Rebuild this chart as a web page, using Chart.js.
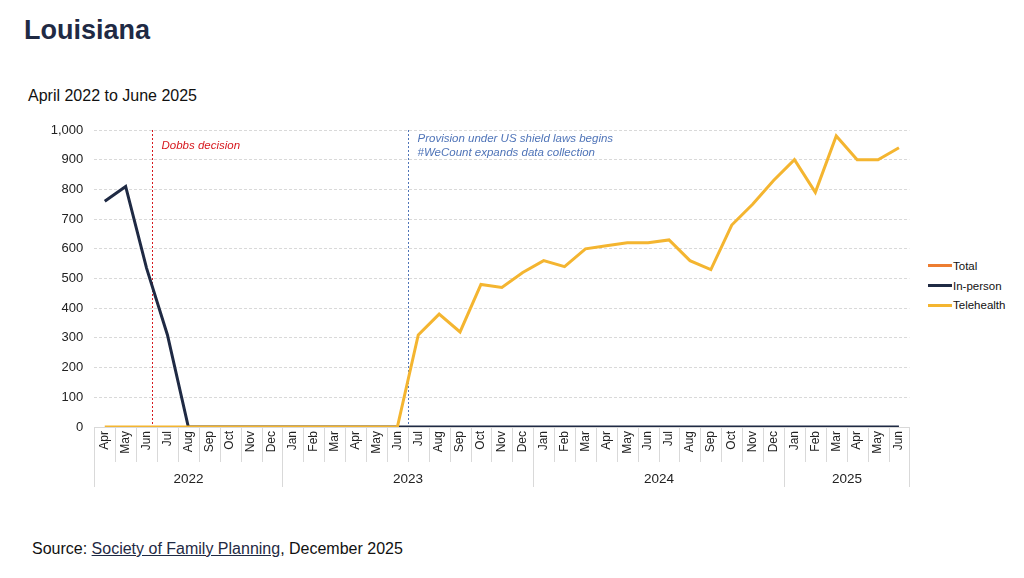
<!DOCTYPE html>
<html>
<head>
<meta charset="utf-8">
<script src="https://cdn.jsdelivr.net/npm/chart.js@4.4.1/dist/chart.umd.min.js"></script>
<style>
  body { margin: 0; width: 1024px; height: 578px; background: #fff; font-family: "Liberation Sans", Arial, sans-serif; position: relative; overflow: hidden; }
  #title { position: absolute; left: 24px; top: 15px; font-size: 27px; font-weight: bold; color: #1f2a44; }
  #subtitle { position: absolute; left: 28px; top: 87px; font-size: 16px; color: #111; }
  #source { position: absolute; left: 32px; top: 540px; font-size: 16px; color: #111; }
  #source u { color: #1f2a44; }
  #chartBox { position: absolute; left: 0; top: 110px; width: 920px; height: 390px; }
  #legend { position: absolute; left: 928px; top: 256px; font-size: 11.5px; color: #111; }
  #legend div { display: flex; align-items: center; height: 19.7px; }
  #legend span.sw { display: inline-block; width: 24px; height: 3px; margin-right: 1px; }
</style>
</head>
<body>
<div id="title">Louisiana</div>
<div id="subtitle">April 2022 to June 2025</div>
<div id="chartBox"><canvas id="chart" width="920" height="390"></canvas></div>
<div id="legend"></div>
<div id="source">Source: <u>Society of Family Planning</u>, December 2025</div>
<script>
// months April 2022 .. June 2025
const months = ['Apr', 'May', 'Jun', 'Jul', 'Aug', 'Sep', 'Oct', 'Nov', 'Dec',
  'Jan', 'Feb', 'Mar', 'Apr', 'May', 'Jun', 'Jul', 'Aug', 'Sep', 'Oct', 'Nov', 'Dec',
  'Jan', 'Feb', 'Mar', 'Apr', 'May', 'Jun', 'Jul', 'Aug', 'Sep', 'Oct', 'Nov', 'Dec',
  'Jan', 'Feb', 'Mar', 'Apr', 'May', 'Jun'];
const years = ['2022', '2023', '2024', '2025'];
const monthsPerYear = [9, 12, 12, 6];

const totalValues = [];
const inPersonValues = [760, 810, 535, 310, 0, 0, 0, 0, 0,
  0, 0, 0, 0, 0, 0, 0, 0, 0, 0, 0, 0,
  0, 0, 0, 0, 0, 0, 0, 0, 0, 0, 0, 0,
  0, 0, 0, 0, 0, 0];
const telehealthValues = [0, 0, 0, 0, 0, 0, 0, 0, 0,
  0, 0, 0, 0, 0, 0, 310, 380, 320, 480, 470, 520,
  560, 540, 600, 610, 620, 620, 630, 560, 530, 680, 750, 830,
  900, 790, 980, 900, 900, 940];

// event markers (position in month units from Apr 2022)
const events = [
  { at: 2.25, color: '#d7191f', lines: ['Dobbs decision'] },
  { at: 14.5, color: '#4f74b8', lines: ['Provision under US shield laws begins', '#WeCount expands data collection'] }
];

const colors = { total: '#ed7d31', inPerson: '#1f2a44', telehealth: '#f4b530' };
const FONT = '"Liberation Sans", Arial, sans-serif';

const legendItems = [
  { label: 'Total', color: colors.total },
  { label: 'In-person', color: colors.inPerson },
  { label: 'Telehealth', color: colors.telehealth }
];
document.getElementById('legend').innerHTML = legendItems
  .map(it => `<div><span class="sw" style="background:${it.color}"></span>${it.label}</div>`).join('');

const eventPlugin = {
  id: 'events',
  beforeDatasetsDraw(chart) {
    const ctx = chart.ctx;
    const x = chart.scales.x;
    const area = chart.chartArea;
    ctx.save();
    events.forEach(ev => {
      const px = Math.round(x.getPixelForValue(ev.at)) + 0.5;
      ctx.strokeStyle = ev.color;
      ctx.lineWidth = 1;
      ctx.setLineDash([2, 2]);
      ctx.beginPath();
      ctx.moveTo(px, area.top);
      ctx.lineTo(px, area.bottom);
      ctx.stroke();
      ctx.setLineDash([]);
      ctx.fillStyle = ev.color;
      ctx.font = 'italic 11.5px ' + FONT;
      ctx.textBaseline = 'middle';
      ev.lines.forEach((t, i) => ctx.fillText(t, px + 9, area.top + (ev.lines.length > 1 ? 9 : 16) + i * 14));
    });
    ctx.restore();
  },
  afterDraw(chart) {
    const ctx = chart.ctx;
    const x = chart.scales.x;
    const area = chart.chartArea;
    const step = x.getPixelForValue(1) - x.getPixelForValue(0);
    const edge = i => Math.round(x.getPixelForValue(i) - step / 2) + 0.5;
    ctx.save();
    ctx.strokeStyle = '#d9d9d9';
    ctx.lineWidth = 1;
    // month separators
    for (let i = 0; i <= months.length; i++) {
      ctx.beginPath();
      ctx.moveTo(edge(i), area.bottom);
      ctx.lineTo(edge(i), area.bottom + 35);
      ctx.stroke();
    }
    // year groups
    let start = 0;
    ctx.fillStyle = '#222';
    ctx.font = '13.5px ' + FONT;
    ctx.textAlign = 'center';
    ctx.textBaseline = 'middle';
    ctx.beginPath();
    ctx.moveTo(edge(0), area.bottom);
    ctx.lineTo(edge(0), area.bottom + 60);
    ctx.stroke();
    years.forEach((y, k) => {
      const end = start + monthsPerYear[k];
      ctx.beginPath();
      ctx.moveTo(edge(end), area.bottom);
      ctx.lineTo(edge(end), area.bottom + 60);
      ctx.stroke();
      ctx.fillText(y, (edge(start) + edge(end)) / 2, area.bottom + 52);
      start = end;
    });
    ctx.restore();
  }
};

new Chart(document.getElementById('chart'), {
  type: 'line',
  data: {
    labels: months,
    datasets: [
      { label: 'Total', data: totalValues, borderColor: colors.total, order: 2 },
      { label: 'In-person', data: inPersonValues, borderColor: colors.inPerson, order: 1 },
      { label: 'Telehealth', data: telehealthValues, borderColor: colors.telehealth, order: 0 }
    ]
  },
  options: {
    responsive: false,
    animation: false,
    layout: { padding: { top: 20, right: 10.6, left: 0, bottom: 0 } },
    elements: {
      line: { borderWidth: 3, tension: 0, borderCapStyle: 'butt', borderJoinStyle: 'miter' },
      point: { radius: 0 }
    },
    plugins: { legend: { display: false }, tooltip: { enabled: false } },
    scales: {
      x: {
        offset: true,
        grid: { display: true, drawOnChartArea: false, drawTicks: false },
        border: { display: true, color: '#d9d9d9' },
        ticks: { autoSkip: false, minRotation: 90, maxRotation: 90, padding: 4, color: '#222', font: { family: FONT, size: 12 } },
        afterFit(scale) { scale.height = 73; }
      },
      y: {
        min: 0,
        max: 1000,
        grid: { color: '#d9d9d9', drawTicks: false },
        border: { display: false, dash: [3, 2] },
        ticks: {
          stepSize: 100,
          padding: 11,
          color: '#222',
          font: { family: FONT, size: 13 },
          callback: v => v.toLocaleString('en-US')
        },
        afterFit(scale) { scale.width = 94.3; }
      }
    }
  },
  plugins: [eventPlugin]
});
</script>
</body>
</html>
